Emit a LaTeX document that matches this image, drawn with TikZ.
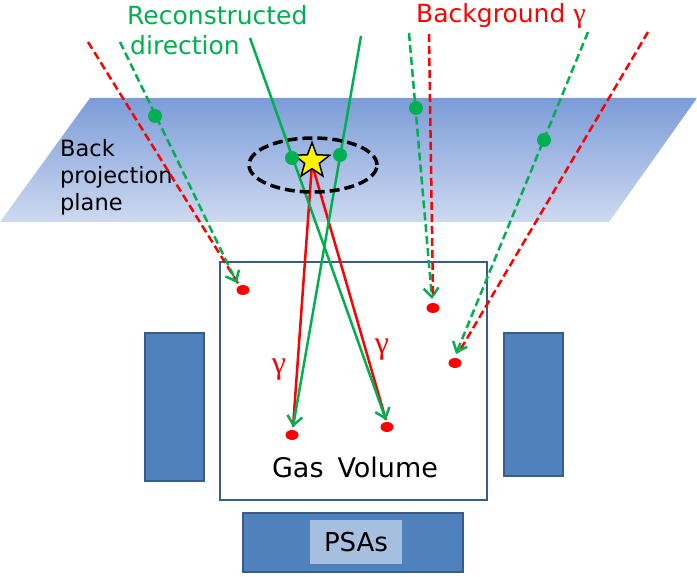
\documentclass[tikz,border=0pt]{standalone}
\usepackage{fontspec}
\setmainfont{DejaVu Sans}
\newfontfamily\gfont{Liberation Serif}
\usetikzlibrary{arrows.meta,shapes.geometric}
\definecolor{pgreen}{RGB}{0,176,80}
\definecolor{pred}{RGB}{255,0,0}
\definecolor{boxblue}{RGB}{79,129,189}
\definecolor{boxedge}{RGB}{56,93,138}
\definecolor{planetop}{RGB}{124,156,216}
\definecolor{planebot}{RGB}{205,217,240}
\definecolor{psalight}{RGB}{167,191,222}
\tikzset{
  gline/.style={pgreen, line width=2.5pt},
  rline/.style={pred, line width=2.5pt},
  gdash/.style={pgreen, line width=2.5pt, dash pattern=on 8pt off 4pt},
  rdash/.style={pred, line width=2.5pt, dash pattern=on 8pt off 4pt},
  barb/.style={-{Straight Barb[length=9pt,width=15pt]}},
  gdot/.style={circle, fill=pgreen, minimum size=14pt, inner sep=0pt},
  rdot/.style={ellipse, fill=pred, minimum width=13pt, minimum height=10pt, inner sep=0pt},
  bluebar/.style={fill=boxblue, draw=boxedge, line width=2pt},
  lbl/.style={inner sep=0pt, font=\fontsize{25}{29}\selectfont},
  bpl/.style={inner sep=0pt, anchor=base west, font=\fontsize{22.5}{27}\selectfont},
  starstyle/.style={star, star points=5, star point ratio=2.4, fill=yellow, draw=black, line width=1.5pt, minimum size=37pt, inner sep=0pt},
}
\begin{document}
\begin{tikzpicture}[x=1pt,y=-1pt]
\useasboundingbox (0,0) rectangle (697,577);
% plane
\shade[top color=planetop, bottom color=planebot] (90,98) -- (697,98) -- (609,222) -- (0,222) -- cycle;
% detector parts
\draw[bluebar] (145,333) rectangle (204,481);
\draw[bluebar] (504,333) rectangle (563,476);
\draw[bluebar] (243,513) rectangle (463,572);
\node[fill=psalight, minimum width=92pt, minimum height=43pt, inner sep=0pt] (psa) at (356,542) {};
\node[inner sep=0pt, font=\fontsize{26}{30}\selectfont] (psat) at (psa.center) {PSAs};
\draw[fill=white, draw=boxedge, line width=2pt] (220,262) rectangle (487,500);
\node[anchor=base, inner sep=0pt, font=\fontsize{27}{32}\selectfont] (gas) at (355,478) {Gas\hspace{14pt}Volume};
% labels
\node[lbl, pgreen, anchor=base west] (rec1) at (127,25) {Reconstructed};
\node[lbl, pgreen, anchor=base west] (rec2) at (130,55) {direction};
\node[lbl, pred, anchor=base west] (bg) at (416,23) {Background {\gfont\fontsize{28}{30}\selectfont γ}};
\node[bpl] (bp1) at (60,157) {Back};
\node[bpl] (bp2) at (60,184) {projection};
\node[bpl] (bp3) at (60,211) {plane};
\node[pred, inner sep=0pt, font=\gfont\fontsize{32}{34}\selectfont] (g1) at (279,370) {γ};
\node[pred, inner sep=0pt, font=\gfont\fontsize{32}{34}\selectfont] (g2) at (382,350) {γ};
% coordinates
\coordinate (s1) at (88,42);
\coordinate (s2) at (120,42);
\coordinate (e1) at (239,285);
\coordinate (e2) at (237,283);
\coordinate (s3) at (409,33);
\coordinate (s4) at (429,34);
\coordinate (e3) at (432,299);
\coordinate (e4) at (433,296);
\coordinate (s5) at (588,32);
\coordinate (s6) at (648,32);
\coordinate (e5) at (456,354);
\coordinate (e6) at (459,352);
\coordinate (t1) at (250,38);
\coordinate (t2) at (361,36);
\coordinate (a1) at (386,420);
\coordinate (a2) at (293,427);
% red dots
\node[rdot] (d1) at (243,290) {};
\node[rdot] (d2) at (433,308) {};
\node[rdot] (d3) at (455,363) {};
\node[rdot] (d4) at (292,435) {};
\node[rdot] (d5) at (387,427) {};
% dashed background lines
\draw[rdash] (s1) -- (e1);
\draw[gdash, barb] (s2) -- (e2);
\draw[gdash, barb] (s3) -- (e3);
\draw[rdash] (s4) -- (e4);
\draw[rdash] (s6) -- (e6);
\draw[gdash, barb] (s5) -- (e5);
% star and reconstructed lines
\coordinate (sc) at (312,164);
\draw[rline] (sc) -- (a2);
\draw[rline] (sc) -- (a1);
\draw[gline, barb] (t1) -- (a1);
\draw[gline, barb] (t2) -- (a2);
\node[starstyle] (star) at (312,161) {};
\node[ellipse, draw=black, line width=3.5pt, dash pattern=on 10pt off 5pt, minimum width=128pt, minimum height=54pt, inner sep=0pt] (ell) at (313,165) {};
% green dots
\node[gdot] (gd1) at (155,116) {};
\node[gdot] (gd2) at (416,108) {};
\node[gdot] (gd3) at (544,140) {};
\node[gdot] (gd4) at (292,158) {};
\node[gdot] (gd5) at (340,155) {};
\end{tikzpicture}
\end{document}
